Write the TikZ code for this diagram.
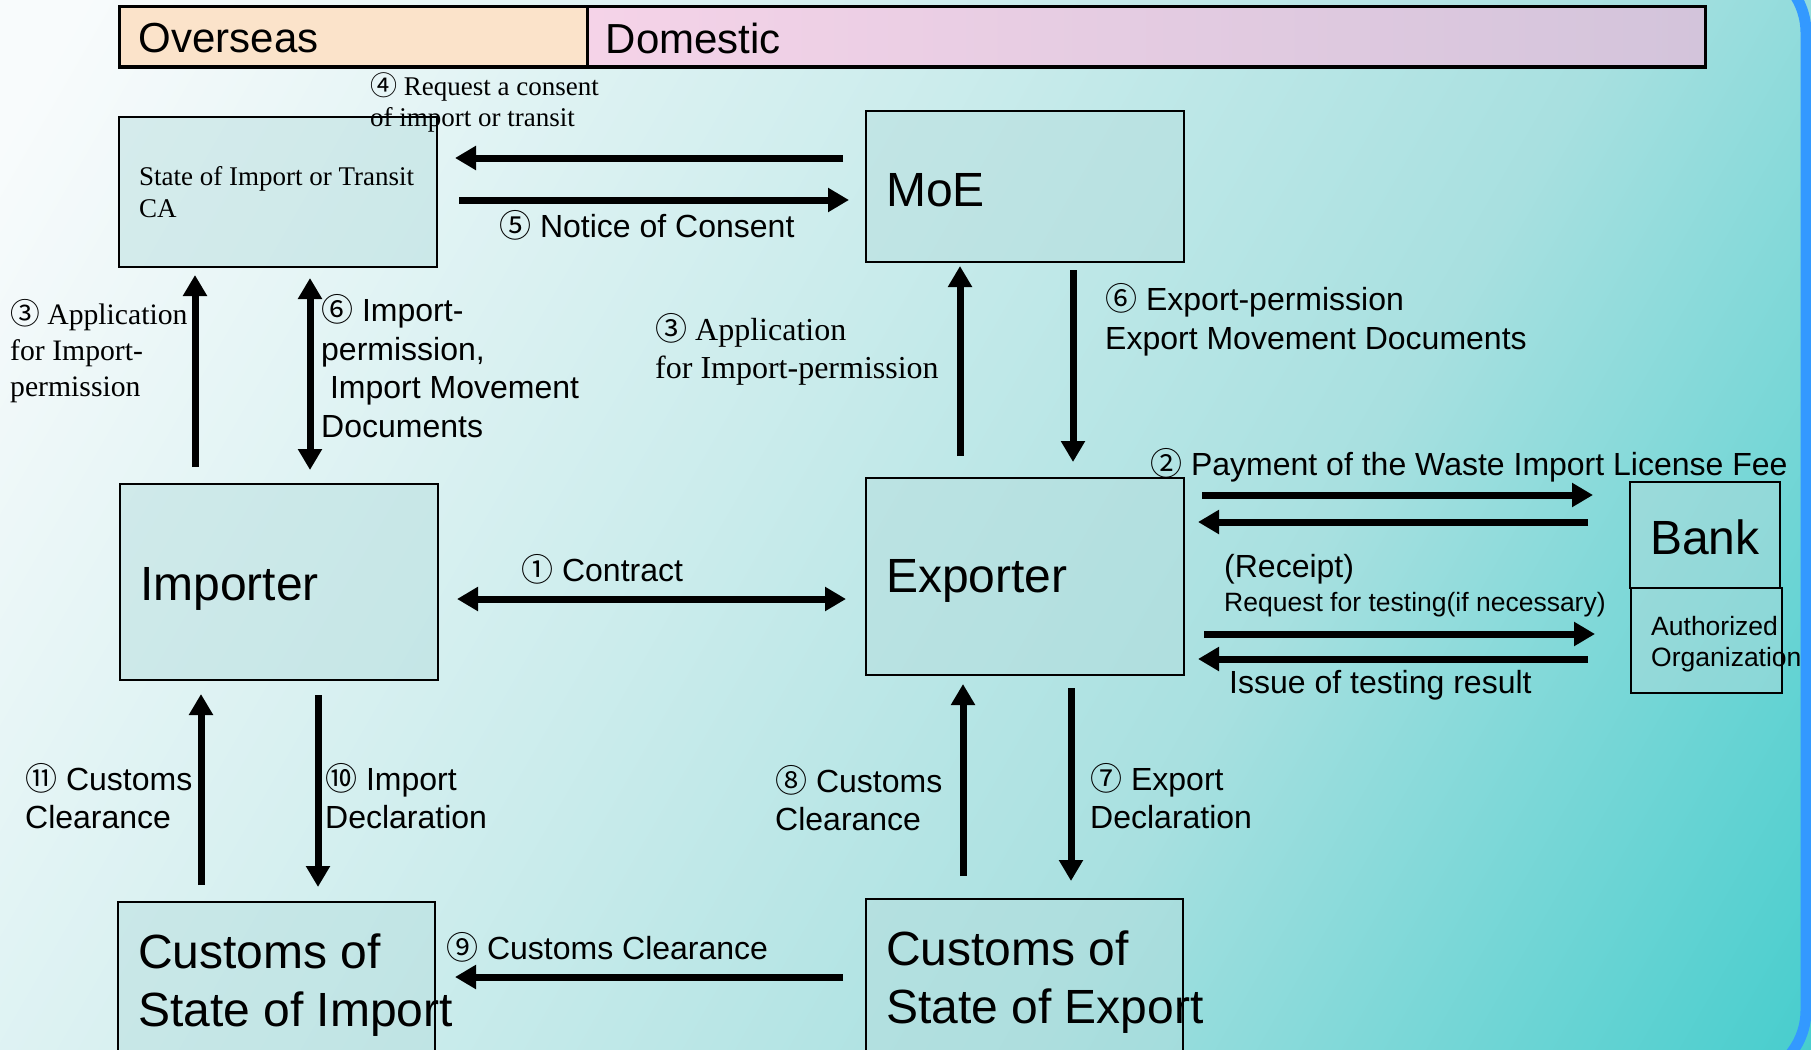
\documentclass[tikz,border=0pt]{standalone}
\usepackage{fontspec}
\setmainfont{Liberation Sans}
\newfontfamily\tnrfont{Liberation Serif}
\newfontfamily\jpfont{Noto Sans CJK JP}
\usetikzlibrary{arrows.meta}
\definecolor{bgA}{HTML}{F8FBFC}
\definecolor{bgB}{HTML}{CBECEC}
\definecolor{bgC}{HTML}{A8E0E0}
\definecolor{bgD}{HTML}{40CCCC}
\definecolor{boxfill}{HTML}{B5DDDD}
\definecolor{peach}{HTML}{FBE3CA}
\definecolor{pinkL}{HTML}{F5D3E8}
\definecolor{lavR}{HTML}{D3C4DB}
\definecolor{frameblue}{HTML}{3399FF}
\pgfdeclarehorizontalshading{bgshade}{100bp}{color(0bp)=(bgA); color(18bp)=(bgA); color(44bp)=(bgB); color(62bp)=(bgC); color(86bp)=(bgD); color(100bp)=(bgD)}
\newcommand{\cn}[1]{{\jpfont #1}}

\begin{document}
\begin{tikzpicture}[x=1pt,y=-1pt,
  box/.style={rectangle,draw,line width=2pt,fill=boxfill,fill opacity=.47,inner sep=0pt},
  boxtext/.style={anchor=west,inner sep=0pt,align=left,yshift=-4pt,font=\fontsize{48}{58}\selectfont},
  hdr/.style={rectangle,draw,line width=3pt,minimum height=60pt,inner sep=0pt},
  lab/.style={anchor=west,inner sep=0pt,align=left,font=\fontsize{32}{38.5}\selectfont},
  slab/.style={anchor=west,inner sep=0pt,align=left,font=\tnrfont\fontsize{27}{31}\selectfont},
  arr/.style={line width=7pt,-{Triangle[length=21pt,width=23pt]}},
  darr/.style={line width=7pt,{Triangle[length=21pt,width=23pt]}-{Triangle[length=21pt,width=23pt]}}]
  \useasboundingbox (0,0) rectangle (1811,1049);
  \clip (0,0) rectangle (1811,1049);
  \shade[shading=bgshade,shading angle=-30] (0,0) rectangle (1811,1049);
  \draw[line width=11pt,frameblue,rounded corners=70pt] (1690,-37) -- (1806,-37) -- (1806,1080) -- (1690,1080);

  \node[hdr,fill=peach,minimum width=468pt] (Over) at (353,37) {};
  \node[hdr,left color=pinkL,right color=lavR,minimum width=1118pt] (Dom) at (1146,37) {};
  \node[boxtext,yshift=3pt,font=\fontsize{42}{50}\selectfont] (Overt) at ([xshift=21pt]Over.west) {Overseas};
  \node[boxtext,yshift=3pt,font=\fontsize{42}{50}\selectfont] (Domt) at ([xshift=20pt]Dom.west) {Domestic};

  \node[box,minimum width=318pt,minimum height=150pt] (CA) at (278,192) {};
  \node[box,minimum width=318pt,minimum height=151pt] (MoE) at (1025,186.5) {};
  \node[box,minimum width=318pt,minimum height=196pt] (Imp) at (279,582) {};
  \node[box,minimum width=318pt,minimum height=197pt] (Exp) at (1025,576.5) {};
  \node[box,minimum width=150pt,minimum height=106pt] (Bank) at (1705,535) {};
  \node[box,minimum width=151pt,minimum height=105pt] (Auth) at (1706.5,640.5) {};
  \node[box,minimum width=317pt,minimum height=155pt] (CImp) at (276.5,979.5) {};
  \node[box,minimum width=317pt,minimum height=154pt] (CExp) at (1024.5,976) {};

  \node[boxtext,yshift=4pt,font=\tnrfont\fontsize{27}{32}\selectfont] (CAt) at ([xshift=21pt]CA.west) {State of Import or Transit\\CA};
  \node[boxtext] (MoEt) at ([xshift=21pt]MoE.west) {MoE};
  \node[boxtext,yshift=-3pt] (Impt) at ([xshift=21pt]Imp.west) {Importer};
  \node[boxtext] (Expt) at ([xshift=21pt]Exp.west) {Exporter};
  \node[boxtext,yshift=2pt] (Bankt) at ([xshift=21pt]Bank.west) {Bank};
  \node[boxtext,font=\fontsize{26.5}{31}\selectfont] (Autht) at ([xshift=21pt]Auth.west) {Authorized\\Organization};
  \node[boxtext,yshift=-2pt] (CImpt) at ([xshift=21pt]CImp.west) {Customs of\\State of Import};
  \node[boxtext,yshift=-2pt] (CExpt) at ([xshift=21pt]CExp.west) {Customs of\\State of Export};

  \node[slab] (L4) at (370,102) {\cn{④} Request a consent\\of import or transit};
  \node[lab] (L5) at (499,225) {\cn{⑤} Notice of Consent};
  \node[slab,font=\tnrfont\fontsize{29.7}{36}\selectfont] (L3a) at (10,351) {\cn{③} Application\\for Import-\\permission};
  \node[lab] (L6a) at (321,366) {\cn{⑥} Import-\\permission,\\~Import Movement\\Documents};
  \node[slab,font=\tnrfont\fontsize{32}{38}\selectfont] (L3b) at (655,349) {\cn{③} Application\\for Import-permission};
  \node[lab] (L6b) at (1105,320) {\cn{⑥} Export-permission\\Export Movement Documents};
  \node[lab] (L2) at (1150,465) {\cn{②} Payment of the Waste Import License Fee};
  \node[lab] (L1) at (521,569) {\cn{①} Contract};
  \node[lab] (Lr) at (1224,569) {(Receipt)};
  \node[lab,font=\fontsize{26.5}{31}\selectfont] (Lq) at (1224,605) {Request for testing(if necessary)};
  \node[lab] (Li) at (1229,685) {Issue of testing result};
  \node[lab] (L11) at (25,796) {\cn{⑪} Customs\\Clearance};
  \node[lab] (L10) at (325,796) {\cn{⑩} Import\\Declaration};
  \node[lab] (L8) at (775,798) {\cn{⑧} Customs\\Clearance};
  \node[lab] (L7) at (1090,796) {\cn{⑦} Export\\Declaration};
  \node[lab] (L9) at (446,947) {\cn{⑨} Customs Clearance};

  \draw[arr,shorten <=22pt,shorten >=17pt] ([yshift=28.5pt]MoE.west) -- ([yshift=28.5pt]MoE.west -| CA.east);
  \draw[arr,shorten <=21pt,shorten >=16pt] ([yshift=-13.5pt]CA.east |- MoE.west) -- ([yshift=-13.5pt]MoE.west);
  \draw[arr,shorten <=16pt,shorten >=7pt] ([xshift=-84pt]Imp.north) -- ([xshift=-84pt]Imp.north |- CA.south);
  \draw[darr,shorten <=13pt,shorten >=10pt] ([xshift=31pt]Imp.north) -- ([xshift=31pt]Imp.north |- CA.south);
  \draw[arr,shorten <=21pt,shorten >=3pt] ([xshift=-65pt]Exp.north) -- ([xshift=-65pt]Exp.north |- MoE.south);
  \draw[arr,shorten <=7pt,shorten >=15pt] ([xshift=48pt]Exp.north |- MoE.south) -- ([xshift=48pt]Exp.north);
  \draw[darr,shorten <=18pt,shorten >=19pt] ([yshift=-17pt]Imp.east) -- ([yshift=-17pt]Imp.east -| Exp.west);
  \draw[arr,shorten <=17pt,shorten >=36pt] ([yshift=81.5pt]Exp.east) -- ([yshift=81.5pt]Exp.east -| Bank.west);
  \draw[arr,shorten <=41pt,shorten >=13pt] ([yshift=54.5pt]Exp.east -| Bank.west) -- ([yshift=54.5pt]Exp.east);
  \draw[arr,shorten <=19pt,shorten >=35pt] ([yshift=-57.5pt]Exp.east) -- ([yshift=-57.5pt]Exp.east -| Auth.west);
  \draw[arr,shorten <=42pt,shorten >=13pt] ([yshift=-82.5pt]Exp.east -| Auth.west) -- ([yshift=-82.5pt]Exp.east);
  \draw[arr,shorten <=16pt,shorten >=13pt] ([xshift=-78pt]Imp.south |- CImp.north) -- ([xshift=-78pt]Imp.south);
  \draw[arr,shorten <=14pt,shorten >=14pt] ([xshift=39pt]Imp.south) -- ([xshift=39pt]Imp.south |- CImp.north);
  \draw[arr,shorten <=22pt,shorten >=8pt] ([xshift=-62pt]Exp.south |- CExp.north) -- ([xshift=-62pt]Exp.south);
  \draw[arr,shorten <=12pt,shorten >=17pt] ([xshift=46pt]Exp.south) -- ([xshift=46pt]Exp.south |- CExp.north);
  \draw[arr,shorten <=22pt,shorten >=19pt] ([yshift=-1pt]CExp.west) -- ([yshift=-1pt]CExp.west -| CImp.east);
\end{tikzpicture}
\end{document}
